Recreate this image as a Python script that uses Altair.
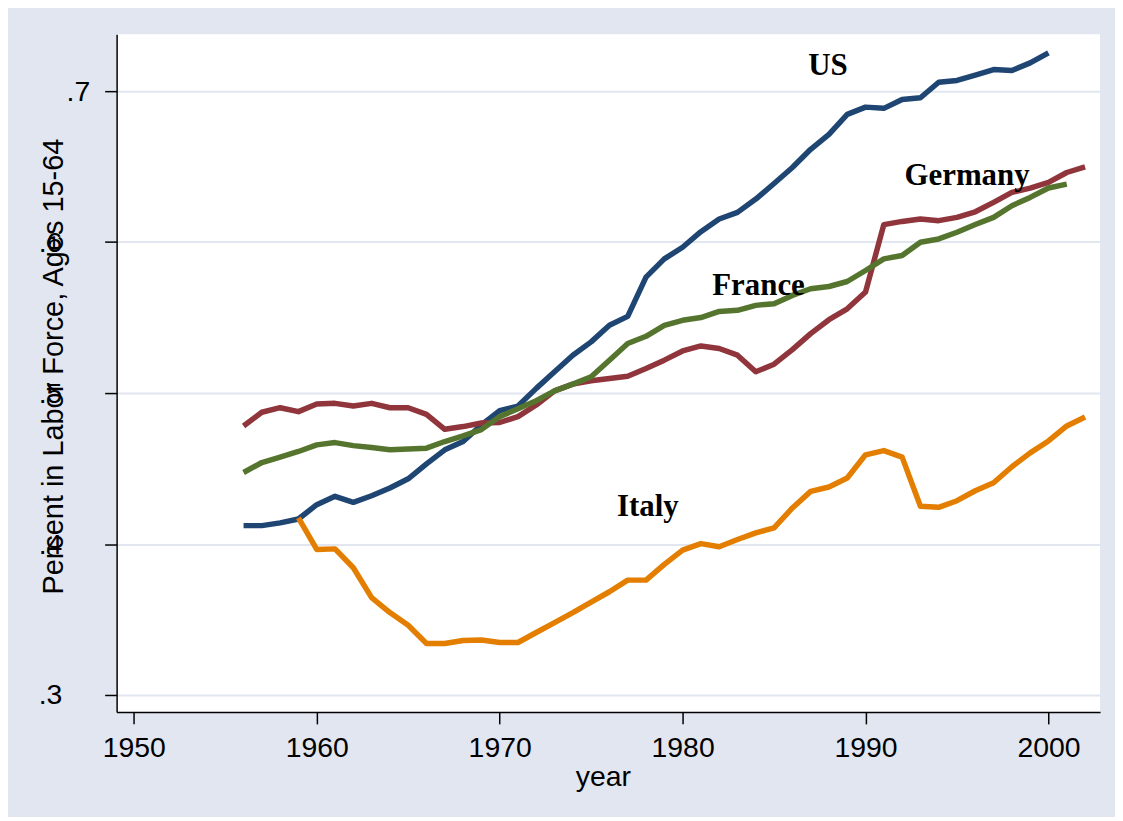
import altair as alt
import pandas as pd

# ---------------- data ----------------
years_us = list(range(1956, 2001))
us = [0.4122, 0.4122, 0.4140, 0.4166, 0.4261, 0.4316, 0.4276, 0.4320, 0.4371, 0.4432,
      0.4531, 0.4624, 0.4679, 0.4789, 0.4884, 0.4914, 0.5031, 0.5141, 0.5251, 0.5339,
      0.5449, 0.5508, 0.5768, 0.5889, 0.5966, 0.6069, 0.6153, 0.6197, 0.6285, 0.6388,
      0.6494, 0.6615, 0.6714, 0.6846, 0.6894, 0.6886, 0.6945, 0.6956, 0.7059, 0.7071,
      0.7106, 0.7143, 0.7137, 0.7187, 0.7253]

years_de = list(range(1956, 2003))
germany = [0.4782, 0.4873, 0.4903, 0.4877, 0.4927, 0.4932, 0.4914, 0.4932, 0.4903, 0.4903,
           0.4859, 0.4760, 0.4778, 0.4802, 0.4805, 0.4844, 0.4921, 0.5015, 0.5059, 0.5081,
           0.5097, 0.5112, 0.5163, 0.5218, 0.5279, 0.5312, 0.5295, 0.5251, 0.5141, 0.5191,
           0.5288, 0.5394, 0.5486, 0.5558, 0.5669, 0.6116, 0.6137, 0.6153, 0.6142, 0.6164,
           0.6201, 0.6263, 0.6329, 0.6358, 0.6395, 0.6461, 0.6498]

years_fr = list(range(1956, 2002))
france = [0.4474, 0.4540, 0.4576, 0.4613, 0.4657, 0.4672, 0.4652, 0.4639, 0.4624, 0.4630,
          0.4635, 0.4679, 0.4716, 0.4758, 0.4844, 0.4896, 0.4949, 0.5015, 0.5059, 0.5108,
          0.5218, 0.5328, 0.5376, 0.5449, 0.5482, 0.5500, 0.5541, 0.5548, 0.5581, 0.5592,
          0.5647, 0.5691, 0.5706, 0.5739, 0.5812, 0.5889, 0.5911, 0.5999, 0.6021, 0.6065,
          0.6116, 0.6164, 0.6241, 0.6296, 0.6358, 0.6384]

years_it = list(range(1959, 2003))
italy = [0.4173, 0.3964, 0.3968, 0.3843, 0.3645, 0.3546, 0.3462, 0.3341, 0.3341, 0.3361,
         0.3364, 0.3348, 0.3348, 0.3414, 0.3480, 0.3546, 0.3616, 0.3684, 0.3761, 0.3761,
         0.3865, 0.3960, 0.4003, 0.3982, 0.4030, 0.4074, 0.4107, 0.4239, 0.4349, 0.4378,
         0.4437, 0.4591, 0.4619, 0.4576, 0.4250, 0.4243, 0.4287, 0.4353, 0.4406, 0.4512,
         0.4604, 0.4683, 0.4782, 0.4842]

countries = ["US", "Germany", "France", "Italy"]
colors = ["#1F4573", "#90353B", "#55752F", "#E37E00"]

label_text = ["US", "Germany", "France", "Italy"]
label_year = [1987.95, 1995.55, 1984.15, 1978.1]
label_value = [0.7106, 0.6380, 0.5647, 0.4188]

x_ticks = [1950, 1960, 1970, 1980, 1990, 2000]
y_ticks = [0.3, 0.4, 0.5, 0.6, 0.7]

# ---------------- tables ----------------
series = {"US": (years_us, us), "Germany": (years_de, germany),
          "France": (years_fr, france), "Italy": (years_it, italy)}
rows = []
for name, (yrs, vals) in series.items():
    for yy, vv in zip(yrs, vals):
        rows.append({"country": name, "year": yy, "value": vv})
df = pd.DataFrame(rows)
df_lab = pd.DataFrame({"text": label_text, "year": label_year, "value": label_value})

BG = "#E1E6F0"
FONT = "Liberation Sans"

x_scale = alt.Scale(domain=[1949.06, 2002.82], nice=False, zero=False)
y_scale = alt.Scale(domain=[0.2888, 0.7376], nice=False, zero=False)

x_axis = alt.Axis(
    values=x_ticks, format="d", title="year", grid=False,
    labelFont=FONT, labelFontSize=28.5, labelColor="black", labelPadding=10,
    tickSize=12, tickColor="black", tickWidth=1.5,
    domainColor="black", domainWidth=1.5,
    titleFont=FONT, titleFontSize=28.5, titleFontWeight="normal", titleColor="black",
    titlePadding=0, titleX=488,
)
y_axis = alt.Axis(
    values=y_ticks, title="Percent in Labor Force, Ages 15-64",
    labelExpr="'.' + round(datum.value * 10)",
    labelFont=FONT, labelFontSize=28.5, labelColor="black",
    labelAlign="right", labelBaseline="middle",
    labelPadding={"condition": {"test": "datum.value > 0.65", "value": 15}, "value": 43},
    tickSize=12, tickColor="black", tickWidth=1.5,
    domainColor="black", domainWidth=1.5,
    grid=True, gridColor=BG, gridWidth=2,
    titleFont=FONT, titleFontSize=29, titleFontWeight="normal", titleColor="black",
    titleAngle=270, titleX=-54, titleY=333, titleBaseline="alphabetic", titleAlign="center",
)

X = alt.X("year:Q", scale=x_scale, axis=x_axis)
Y = alt.Y("value:Q", scale=y_scale, axis=y_axis)

layers = []
for name, col in zip(countries, colors):
    layers.append(
        alt.Chart(df[df["country"] == name])
        .mark_line(strokeWidth=5.5, color=col, strokeJoin="round")
        .encode(x=X, y=Y)
    )

labels = alt.Chart(df_lab).mark_text(
    font="Liberation Serif", fontSize=31, fontWeight="bold", color="black",
    align="center", baseline="alphabetic",
).encode(x=X, y=Y, text="text:N")

chart = alt.layer(*layers, labels).properties(
    width=987, height=680,
    background=BG,
    padding={"left": 109, "top": 25, "right": 15, "bottom": 104},
    autosize=alt.AutoSizeParams(type="none"),
).configure_view(fill="white", stroke=None)

chart.save("out.html", embed_options={"renderer": "svg", "actions": False})
